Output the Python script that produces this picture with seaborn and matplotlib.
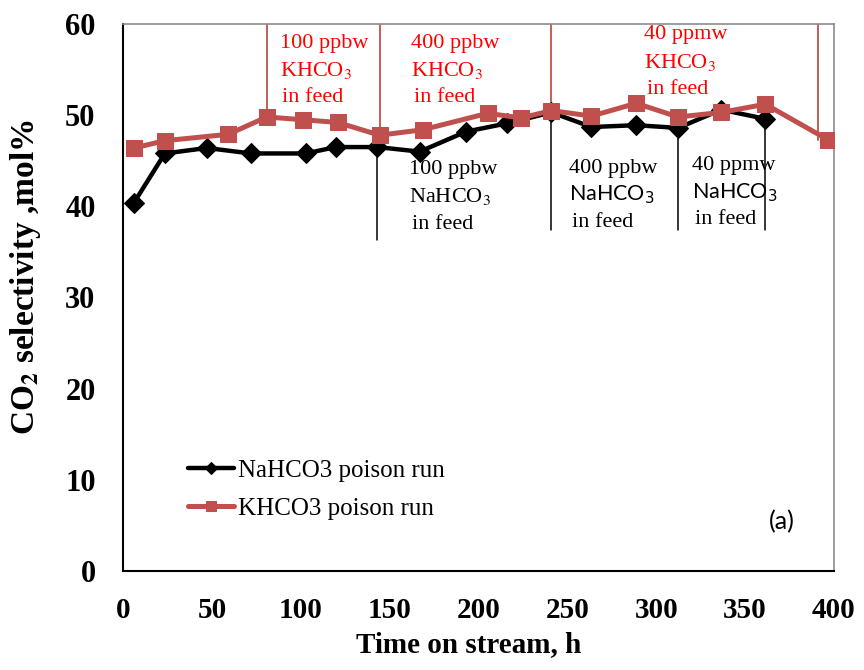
import matplotlib
matplotlib.use("Agg")
import matplotlib.pyplot as plt
import seaborn as sns
import pandas as pd

# Time on stream (h) and CO2 selectivity (mol%) for the two poison runs
na_time = [6, 23.4, 47, 71.8, 102.7, 119.6, 143, 166.8, 193, 216, 241, 263.5, 288.7, 312.3, 336.5, 361.3]
na_sel = [40.4, 45.8, 46.4, 45.8, 45.8, 46.5, 46.5, 46.0, 48.2, 49.1, 50.3, 48.7, 48.9, 48.6, 50.6, 49.6]

k_time = [6, 23.4, 59, 80.8, 101, 120.7, 144.3, 168.5, 205, 224, 241, 263.5, 288.7, 312.3, 336.5, 361.3, 396.7]
k_sel = [46.4, 47.2, 47.9, 49.8, 49.5, 49.2, 47.8, 48.4, 50.2, 49.7, 50.5, 49.9, 51.3, 49.8, 50.3, 51.2, 47.3]

# Times at which the poison feed changed
k_switch_time = [80.8, 144.3, 241, 391]
k_switch_sel = [49.8, 47.8, 50.5, 47.3]
na_switch_time = [143, 241, 312.3, 361.3]
na_switch_sel = [46.5, 50.3, 48.6, 49.6]
na_switch_bottom = [36.3, 37.4, 37.4, 37.4]

x_ticks = [0, 50, 100, 150, 200, 250, 300, 350, 400]
y_ticks = [0, 10, 20, 30, 40, 50, 60]

sns.set_style("white")
plt.rcParams["font.family"] = ["Liberation Serif", "DejaVu Serif"]
plt.rcParams["mathtext.fontset"] = "stix"
plt.rcParams["text.color"] = "black"
plt.rcParams["axes.labelcolor"] = "black"
plt.rcParams["xtick.color"] = "black"
plt.rcParams["ytick.color"] = "black"

na_df = pd.DataFrame({"time": na_time, "sel": na_sel})
k_df = pd.DataFrame({"time": k_time, "sel": k_sel})

fig = plt.figure(figsize=(8.64, 6.70), dpi=100)
ax = fig.add_axes([123.3 / 864, 1 - 571 / 670, (834 - 123.3) / 864, (571 - 24) / 670])

black = "#000000"
red_line = "#C0504D"

# feed-change markers
for t, top in zip(k_switch_time, k_switch_sel):
    ax.plot([t, t], [top, 60], color=red_line, lw=1.3, zorder=1)
for t, top, bot in zip(na_switch_time, na_switch_sel, na_switch_bottom):
    ax.plot([t, t], [bot, top], color=black, lw=1.1, zorder=1)

sns.lineplot(data=na_df, x="time", y="sel", ax=ax, color=black, lw=3.2,
             marker="D", markersize=10, markeredgecolor=black,
             label="NaHCO3 poison run", zorder=3)
sns.lineplot(data=k_df, x="time", y="sel", ax=ax, color=red_line, lw=3.6,
             marker="s", markersize=12, markeredgecolor=red_line,
             label="KHCO3 poison run", zorder=4)

ax.set_xlim(0, 400)
ax.set_ylim(0, 60)
ax.set_xticks(x_ticks)
ax.set_yticks(y_ticks)
ax.set_xticklabels([str(v) for v in x_ticks], fontsize=21, fontweight="bold", color=black)
ax.set_yticklabels([str(v) for v in y_ticks], fontsize=22, fontweight="bold", color=black)
ax.tick_params(axis="x", direction="in", length=7, width=1.3, pad=18.5, colors=black)
ax.tick_params(axis="y", direction="in", length=7, width=1.3, pad=20, colors=black)

for side in ("left", "bottom"):
    ax.spines[side].set_color(black)
    ax.spines[side].set_linewidth(1.5)
for side in ("top", "right"):
    ax.spines[side].set_color("#8c8c8c")
    ax.spines[side].set_linewidth(1.2)

ax.set_xlabel("Time on stream, h", fontsize=21, fontweight="bold", color=black)
ax.xaxis.set_label_coords(0.486, -0.109)
ax.set_ylabel(r"CO$_{\mathbf{2}}$ selectivity ,mol%", fontsize=24, fontweight="bold", color=black)
ax.yaxis.set_label_coords(-0.113, 0.537)

leg = ax.legend(loc="upper left", bbox_to_anchor=(0.077, 0.222), frameon=False,
                fontsize=18, handlelength=1.85, handletextpad=0.16,
                labelspacing=0.62, markerscale=0.6, borderaxespad=0,
                labelcolor=black)

red_txt = "#FF0000"
ann_size = 16


def note(x, y, lines, color):
    for i, (txt, ff, dx) in enumerate(lines):
        kw = dict(fontsize=ann_size, color=color, ha="left", va="center")
        if ff == "sans":
            kw.update(family=["Lato", "DejaVu Sans"], fontsize=15.5, math_fontfamily="dejavusans")
        ax.annotate(txt, xy=(x, y), xycoords="data", xytext=(dx, -i * 19.5),
                    textcoords="offset points", **kw)


note(88, 57.9, [("100 ppbw", None, 0), (r"KHCO$_3$", None, 0), ("in feed", None, 2)], red_txt)
note(162, 57.9, [("400 ppbw", None, 0), (r"KHCO$_3$", None, 0), ("in feed", None, 2)], red_txt)
note(293.3, 58.8, [("40 ppmw", None, 0), (r"KHCO$_3$", None, 0), ("in feed", None, 2)], red_txt)
note(161, 44.0, [("100 ppbw", None, 0), (r"NaHCO$_3$", None, 0), ("in feed", None, 2)], black)
note(251, 44.2, [("400 ppbw", None, 0), (r"NaHCO$_3$", "sans", 0), ("in feed", None, 2)], black)
note(320, 44.5, [("40 ppmw", None, 0), (r"NaHCO$_3$", "sans", 0), ("in feed", None, 2)], black)

ax.text(0.927, 0.09, "(a)", transform=ax.transAxes, fontsize=18,
        family=["Lato", "DejaVu Sans"], ha="center", va="center", color=black)

fig.savefig("out.png", dpi=100)
